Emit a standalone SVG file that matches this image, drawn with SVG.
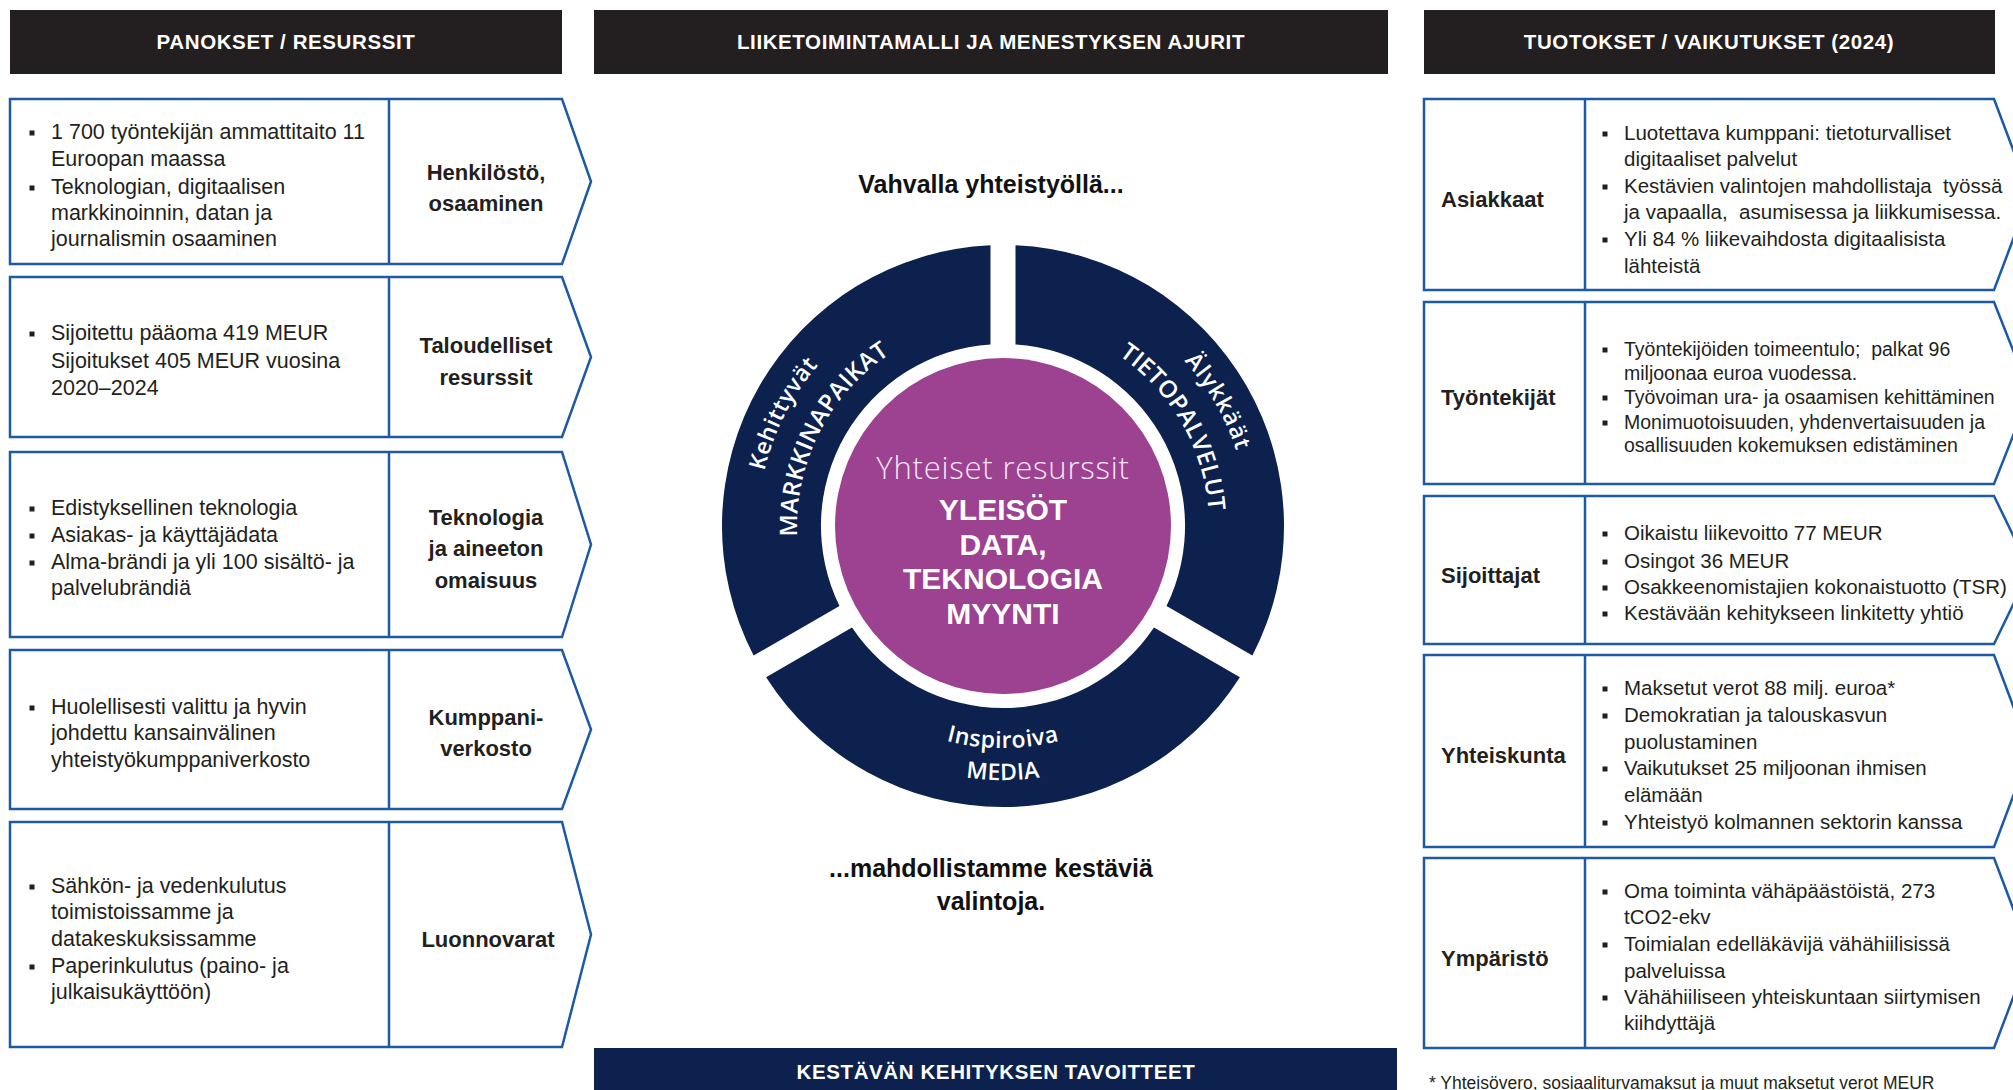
<svg xmlns="http://www.w3.org/2000/svg" width="2013" height="1090" viewBox="0 0 2013 1090">
<style>
.hdr{fill:#231f20}
.hdrt{font-family:"Liberation Sans",Arial,sans-serif;font-weight:700;font-size:20.5px;fill:#fff;letter-spacing:0.6px;text-anchor:middle}
.box{fill:#fff;stroke:#1d5aa5;stroke-width:2.5;stroke-linejoin:miter}
.dv{stroke:#1d5aa5;stroke-width:2.5}
.tl{font-family:"Liberation Sans",Arial,sans-serif;font-size:21.5px;fill:#231f20}
.tr{font-family:"Liberation Sans",Arial,sans-serif;font-size:20.5px;fill:#231f20}
.tr2{font-family:"Liberation Sans",Arial,sans-serif;font-size:19.5px;fill:#231f20}
.lbl{font-family:"Liberation Sans",Arial,sans-serif;font-size:22px;font-weight:700;fill:#231f20}
.lc{text-anchor:middle}
.bul{fill:#231f20}
.mid{font-family:"Liberation Sans",Arial,sans-serif;font-size:25px;font-weight:700;fill:#111;text-anchor:middle}
.navy{fill:#0c214d}
.seg{font-family:"Open Sans","Liberation Sans",sans-serif;font-weight:600;font-size:23px;fill:#fff}
.segu{font-family:"Open Sans","Liberation Sans",sans-serif;font-weight:600;font-size:24px;fill:#fff}
.core1{font-family:"Open Sans","Liberation Sans",sans-serif;font-weight:300;font-size:31px;fill:#f4e6f2;text-anchor:middle;letter-spacing:0.8px}
.core2{font-family:"Liberation Sans",Arial,sans-serif;font-weight:700;font-size:30px;fill:#fff;text-anchor:middle}
.foot{font-family:"Liberation Sans",Arial,sans-serif;font-size:17.5px;fill:#231f20}
</style>
<defs>
<path id="pKeh" d="M797.6,659.3 A245,245 0 0 1 990.2,281.3"/>
<path id="pMar" d="M830.6,638.5 A206,206 0 0 1 992.2,320.3"/>
<path id="pAly" d="M1003,281 A245,245 0 0 1 1215.2,648.5"/>
<path id="pTie" d="M1003,320 A206,206 0 0 1 1181.4,629"/>
<path id="pIns" d="M810.7,637 A222,222 0 0 0 1195.3,637"/>
<path id="pMed" d="M783,653 A254,254 0 0 0 1223,653"/>
</defs>

<!-- Column headers -->
<g id="hdr-inputs"><rect class="hdr" x="10" y="10" width="552" height="64"/><text class="hdrt" x="286" y="49">PANOKSET / RESURSSIT</text></g>
<g id="hdr-model"><rect class="hdr" x="594" y="10" width="794" height="64"/><text class="hdrt" x="991" y="49">LIIKETOIMINTAMALLI JA MENESTYKSEN AJURIT</text></g>
<g id="hdr-outputs"><rect class="hdr" x="1424" y="10" width="571" height="64"/><text class="hdrt" x="1709" y="49">TUOTOKSET / VAIKUTUKSET (2024)</text></g>

<!-- Left: inputs -->
<g id="in-henkilosto">
<polygon class="box" points="10,99 562,99 591,181.5 562,264 10,264"/>
<line class="dv" x1="389" y1="99" x2="389" y2="264"/>
<rect class="bul" x="29.5" y="130.5" width="5" height="5"/><rect class="bul" x="29.5" y="185.5" width="5" height="5"/>
<text class="tl" x="51" y="139">1 700 työntekijän ammattitaito 11</text>
<text class="tl" x="51" y="166">Euroopan maassa</text>
<text class="tl" x="51" y="194">Teknologian, digitaalisen</text>
<text class="tl" x="51" y="220">markkinoinnin, datan ja</text>
<text class="tl" x="51" y="246">journalismin osaaminen</text>
<text class="lbl lc" x="486" y="180">Henkilöstö,</text>
<text class="lbl lc" x="486" y="211">osaaminen</text>
</g>
<g id="in-talous">
<polygon class="box" points="10,277 562,277 591,357 562,437 10,437"/>
<line class="dv" x1="389" y1="277" x2="389" y2="437"/>
<rect class="bul" x="29.5" y="331.5" width="5" height="5"/>
<text class="tl" x="51" y="340">Sijoitettu pääoma 419 MEUR</text>
<text class="tl" x="51" y="368">Sijoitukset 405 MEUR vuosina</text>
<text class="tl" x="51" y="395">2020–2024</text>
<text class="lbl lc" x="486" y="353">Taloudelliset</text>
<text class="lbl lc" x="486" y="385">resurssit</text>
</g>
<g id="in-teknologia">
<polygon class="box" points="10,452 562,452 591,544.5 562,637 10,637"/>
<line class="dv" x1="389" y1="452" x2="389" y2="637"/>
<rect class="bul" x="29.5" y="506.5" width="5" height="5"/><rect class="bul" x="29.5" y="533.5" width="5" height="5"/><rect class="bul" x="29.5" y="560.5" width="5" height="5"/>
<text class="tl" x="51" y="515">Edistyksellinen teknologia</text>
<text class="tl" x="51" y="542">Asiakas- ja käyttäjädata</text>
<text class="tl" x="51" y="569">Alma-brändi ja yli 100 sisältö- ja</text>
<text class="tl" x="51" y="595">palvelubrändiä</text>
<text class="lbl lc" x="486" y="525">Teknologia</text>
<text class="lbl lc" x="486" y="556">ja aineeton</text>
<text class="lbl lc" x="486" y="588">omaisuus</text>
</g>
<g id="in-kumppanit">
<polygon class="box" points="10,650 562,650 591,729.5 562,809 10,809"/>
<line class="dv" x1="389" y1="650" x2="389" y2="809"/>
<rect class="bul" x="29.5" y="705.5" width="5" height="5"/>
<text class="tl" x="51" y="714">Huolellisesti valittu ja hyvin</text>
<text class="tl" x="51" y="740">johdettu kansainvälinen</text>
<text class="tl" x="51" y="767">yhteistyökumppaniverkosto</text>
<text class="lbl lc" x="486" y="725">Kumppani-</text>
<text class="lbl lc" x="486" y="756">verkosto</text>
</g>
<g id="in-luonnonvarat">
<polygon class="box" points="10,822 562,822 591,934.5 562,1047 10,1047"/>
<line class="dv" x1="389" y1="822" x2="389" y2="1047"/>
<rect class="bul" x="29.5" y="884.5" width="5" height="5"/><rect class="bul" x="29.5" y="964.5" width="5" height="5"/>
<text class="tl" x="51" y="893">Sähkön- ja vedenkulutus</text>
<text class="tl" x="51" y="919">toimistoissamme ja</text>
<text class="tl" x="51" y="946">datakeskuksissamme</text>
<text class="tl" x="51" y="973">Paperinkulutus (paino- ja</text>
<text class="tl" x="51" y="999">julkaisukäyttöön)</text>
<text class="lbl lc" x="488" y="947">Luonnovarat</text>
</g>

<!-- Middle -->
<g id="intro"><text class="mid" x="991" y="193">Vahvalla yhteistyöllä...</text></g>

<g id="seg-markkinapaikat">
<path class="navy" d="M753.6,655.5 A281,281 0 0 1 990.5,245.3 L990.5,344.4 A182,182 0 0 0 839.5,606 Z"/>
<text class="seg" letter-spacing="0.6"><textPath href="#pKeh" startOffset="50%" text-anchor="middle">Kehittyvät</textPath></text>
<text class="segu" letter-spacing="0.4"><textPath href="#pMar" startOffset="50%" text-anchor="middle">MARKKINAPAIKAT</textPath></text>
</g>
<g id="seg-tietopalvelut">
<path class="navy" d="M1015.5,245.3 A281,281 0 0 1 1252.4,655.5 L1166.5,606 A182,182 0 0 0 1015.5,344.4 Z"/>
<text class="seg" letter-spacing="1.2"><textPath href="#pAly" startOffset="50%" text-anchor="middle">Älykkäät</textPath></text>
<text class="segu" letter-spacing="0.2"><textPath href="#pTie" startOffset="50%" text-anchor="middle">TIETOPALVELUT</textPath></text>
</g>
<g id="seg-media">
<path class="navy" d="M1239.9,677.2 A281,281 0 0 1 766.1,677.2 L852,627.6 A182,182 0 0 0 1154,627.6 Z"/>
<text class="seg" letter-spacing="0.5"><textPath href="#pIns" startOffset="50%" text-anchor="middle">Inspiroiva</textPath></text>
<text class="seg" font-size="21" letter-spacing="0.3"><textPath href="#pMed" startOffset="50%" text-anchor="middle">MEDIA</textPath></text>
</g>
<g id="core">
<circle cx="1003" cy="526" r="168" fill="#9d4191"/>
<text class="core1" x="1003" y="479">Yhteiset resurssit</text>
<text class="core2" x="1003" y="520">YLEISÖT</text>
<text class="core2" x="1003" y="555">DATA,</text>
<text class="core2" x="1003" y="589">TEKNOLOGIA</text>
<text class="core2" x="1003" y="624">MYYNTI</text>
</g>

<g id="outro">
<text class="mid" x="991" y="877">...mahdollistamme kestäviä</text>
<text class="mid" x="991" y="910">valintoja.</text>
</g>

<g id="sdg-banner"><rect class="navy" x="594" y="1048" width="803" height="50"/><text class="hdrt" x="996" y="1079">KESTÄVÄN KEHITYKSEN TAVOITTEET</text></g>

<!-- Right: outputs -->
<g id="out-asiakkaat">
<polygon class="box" points="1424,99 1994,99 2030,194.5 1994,290 1424,290"/>
<line class="dv" x1="1585" y1="99" x2="1585" y2="290"/>
<rect class="bul" x="1602.5" y="131.5" width="5" height="5"/><rect class="bul" x="1602.5" y="184.5" width="5" height="5"/><rect class="bul" x="1602.5" y="237.5" width="5" height="5"/>
<text class="lbl" x="1441" y="207">Asiakkaat</text>
<text class="tr" x="1624" y="140">Luotettava kumppani: tietoturvalliset</text>
<text class="tr" x="1624" y="166">digitaaliset palvelut</text>
<text class="tr" x="1624" y="193" xml:space="preserve">Kestävien valintojen mahdollistaja  työssä</text>
<text class="tr" x="1624" y="219" xml:space="preserve">ja vapaalla,  asumisessa ja liikkumisessa.</text>
<text class="tr" x="1624" y="246">Yli 84 % liikevaihdosta digitaalisista</text>
<text class="tr" x="1624" y="273">lähteistä</text>
</g>
<g id="out-tyontekijat">
<polygon class="box" points="1424,302 1994,302 2030,393 1994,484 1424,484"/>
<line class="dv" x1="1585" y1="302" x2="1585" y2="484"/>
<rect class="bul" x="1602.5" y="347.5" width="5" height="5"/><rect class="bul" x="1602.5" y="395.5" width="5" height="5"/><rect class="bul" x="1602.5" y="420.5" width="5" height="5"/>
<text class="lbl" x="1441" y="405">Työntekijät</text>
<text class="tr2" x="1624" y="356" xml:space="preserve">Työntekijöiden toimeentulo;  palkat 96</text>
<text class="tr2" x="1624" y="380">miljoonaa euroa vuodessa.</text>
<text class="tr2" x="1624" y="404">Työvoiman ura- ja osaamisen kehittäminen</text>
<text class="tr2" x="1624" y="429">Monimuotoisuuden, yhdenvertaisuuden ja</text>
<text class="tr2" x="1624" y="452">osallisuuden kokemuksen edistäminen</text>
</g>
<g id="out-sijoittajat">
<polygon class="box" points="1424,496 1994,496 2030,570 1994,644 1424,644"/>
<line class="dv" x1="1585" y1="496" x2="1585" y2="644"/>
<rect class="bul" x="1602.5" y="531.5" width="5" height="5"/><rect class="bul" x="1602.5" y="559.5" width="5" height="5"/><rect class="bul" x="1602.5" y="585.5" width="5" height="5"/><rect class="bul" x="1602.5" y="611.5" width="5" height="5"/>
<text class="lbl" x="1441" y="583">Sijoittajat</text>
<text class="tr" x="1624" y="540">Oikaistu liikevoitto 77 MEUR</text>
<text class="tr" x="1624" y="568">Osingot 36 MEUR</text>
<text class="tr" x="1624" y="594">Osakkeenomistajien kokonaistuotto (TSR)</text>
<text class="tr" x="1624" y="620">Kestävään kehitykseen linkitetty yhtiö</text>
</g>
<g id="out-yhteiskunta">
<polygon class="box" points="1424,655 1994,655 2030,751 1994,847 1424,847"/>
<line class="dv" x1="1585" y1="655" x2="1585" y2="847"/>
<rect class="bul" x="1602.5" y="686.5" width="5" height="5"/><rect class="bul" x="1602.5" y="713.5" width="5" height="5"/><rect class="bul" x="1602.5" y="766.5" width="5" height="5"/><rect class="bul" x="1602.5" y="820.5" width="5" height="5"/>
<text class="lbl" x="1441" y="763">Yhteiskunta</text>
<text class="tr" x="1624" y="695">Maksetut verot 88 milj. euroa*</text>
<text class="tr" x="1624" y="722">Demokratian ja talouskasvun</text>
<text class="tr" x="1624" y="749">puolustaminen</text>
<text class="tr" x="1624" y="775">Vaikutukset 25 miljoonan ihmisen</text>
<text class="tr" x="1624" y="802">elämään</text>
<text class="tr" x="1624" y="829">Yhteistyö kolmannen sektorin kanssa</text>
</g>
<g id="out-ymparisto">
<polygon class="box" points="1424,858 1994,858 2030,953 1994,1048 1424,1048"/>
<line class="dv" x1="1585" y1="858" x2="1585" y2="1048"/>
<rect class="bul" x="1602.5" y="889.5" width="5" height="5"/><rect class="bul" x="1602.5" y="942.5" width="5" height="5"/><rect class="bul" x="1602.5" y="995.5" width="5" height="5"/>
<text class="lbl" x="1441" y="966">Ympäristö</text>
<text class="tr" x="1624" y="898">Oma toiminta vähäpäästöistä, 273</text>
<text class="tr" x="1624" y="924">tCO2-ekv</text>
<text class="tr" x="1624" y="951">Toimialan edelläkävijä vähähiilisissä</text>
<text class="tr" x="1624" y="978">palveluissa</text>
<text class="tr" x="1624" y="1004">Vähähiiliseen yhteiskuntaan siirtymisen</text>
<text class="tr" x="1624" y="1030">kiihdyttäjä</text>
</g>
<g id="footnote"><text class="foot" x="1429" y="1089">* Yhteisövero, sosiaaliturvamaksut ja muut maksetut verot MEUR</text></g>
</svg>
